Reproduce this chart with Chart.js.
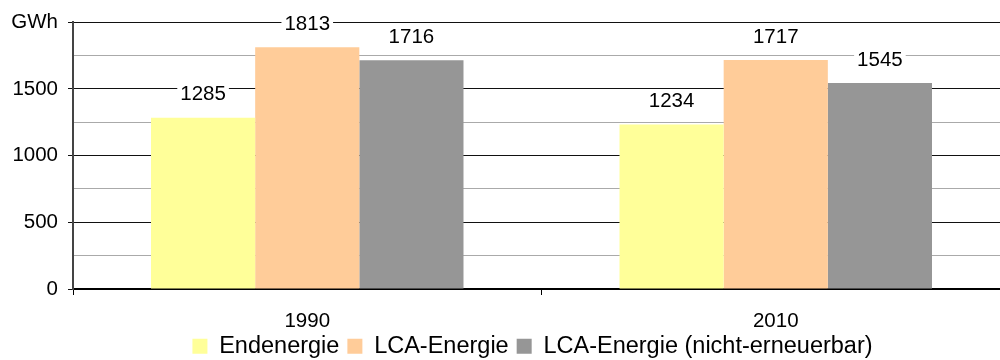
<!DOCTYPE html>
<html>
<head>
<meta charset="utf-8">
<script src="https://cdn.jsdelivr.net/npm/chart.js@4/dist/chart.umd.min.js"></script>
<style>
  html, body { margin: 0; padding: 0; background: #fff; overflow: hidden; }
  #wrap { width: 1000px; height: 360px; overflow: hidden; }
</style>
</head>
<body>
<div id="wrap"><canvas id="energyChart" width="1010" height="368"></canvas></div>
<script>
const years = ['1990', '2010'];
const endenergie = [1285, 1234];
const lcaEnergie = [1813, 1717];
const lcaNichtErneuerbar = [1716, 1545];
const seriesNames = ['Endenergie', 'LCA-Energie', 'LCA-Energie (nicht-erneuerbar)'];

const FONT = 'Liberation Sans, Arial, sans-serif';

// value labels above each bar, on a white patch that cuts the gridline
const barValues = {
    id: 'barValues',
    afterDatasetsDraw(chart) {
        const ctx = chart.ctx;
        ctx.save();
        ctx.font = '20.5px ' + FONT;
        ctx.textAlign = 'center';
        ctx.textBaseline = 'middle';
        chart.data.datasets.forEach((ds, i) => {
            chart.getDatasetMeta(i).data.forEach((bar, j) => {
                const txt = String(ds.data[j]);
                const w = ctx.measureText(txt).width;
                const y = bar.y - 24;
                ctx.fillStyle = '#fff';
                ctx.fillRect(bar.x - w / 2 - 3, y - 10, w + 6, 20);
                ctx.fillStyle = '#000';
                ctx.fillText(txt, bar.x, y + 1);
            });
        });
        ctx.restore();
    }
};

// the year labels hang below the x box into the legend band; don't clip them.
// also nudge the legend a bit left of the plot centre
const tweakLayout = {
    id: 'tweakLayout',
    afterLayout(chart) {
        chart.scales.x.bottom = chart.height;
        chart.legend.left -= 9;
        chart.legend.right -= 9;
    }
};

const ctx = document.getElementById('energyChart').getContext('2d');
const chart = new Chart(ctx, {
    type: 'bar',
    data: {
        labels: years,
        datasets: [
            { label: seriesNames[0], data: endenergie, backgroundColor: '#FFFF99' },
            { label: seriesNames[1], data: lcaEnergie, backgroundColor: '#FFCC99' },
            { label: seriesNames[2], data: lcaNichtErneuerbar, backgroundColor: '#969696' }
        ]
    },
    options: {
        responsive: false,
        animation: false,
        layout: { padding: { top: 20, right: 0, left: 0, bottom: 0 } },
        datasets: {
            bar: { barPercentage: 1, categoryPercentage: 0.667 }
        },
        plugins: {
            legend: {
                position: 'bottom',
                fullSize: false,
                labels: {
                    boxWidth: 15,
                    boxHeight: 15,
                    padding: 8,
                    color: '#000',
                    font: { family: FONT, size: 23.5 }
                }
            },
            tooltip: { enabled: false }
        },
        scales: {
            x: {
                grid: {
                    offset: true,
                    drawOnChartArea: false,
                    tickLength: 6,
                    color: '#000'
                },
                border: { color: '#000', width: 2 },
                ticks: {
                    color: '#000',
                    padding: 14,
                    font: { family: FONT, size: 20.5 }
                },
                afterFit(scale) { scale.height = 37.5; }
            },
            y: {
                min: 0,
                max: 2000,
                ticks: {
                    stepSize: 250,
                    color: '#000',
                    padding: 10,
                    font: { family: FONT, size: 20.5 },
                    callback: v => v === 2000 ? 'GWh' : (v % 500 === 0 ? v : '')
                },
                grid: {
                    color: c => c.tick.value % 500 === 0 ? '#111' : '#aaa',
                    tickColor: c => c.tick.value % 500 === 0 ? '#111' : 'transparent',
                    tickLength: 5
                },
                border: { color: '#444', width: 2 },
                afterFit(scale) { scale.width = 73; }
            }
        }
    },
    plugins: [barValues, tweakLayout]
});
</script>
</body>
</html>
